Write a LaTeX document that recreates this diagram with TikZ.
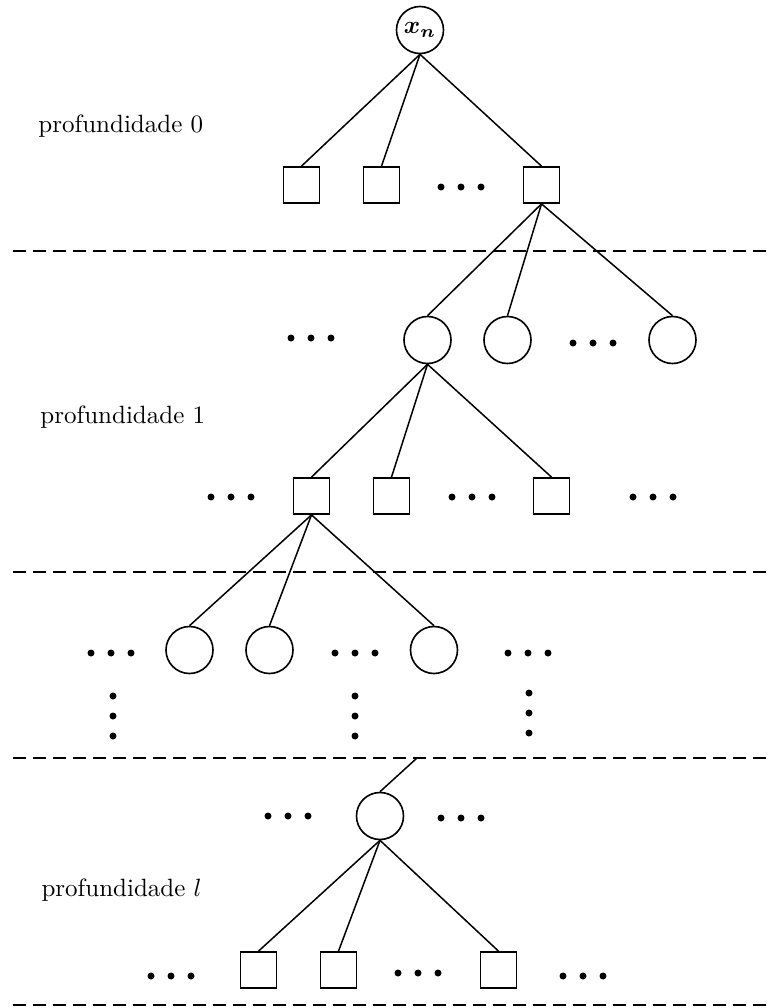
\documentclass[tikz,border=0pt]{standalone}
\usepackage{bm}
\usetikzlibrary{shapes.geometric}
\tikzset{
  circ/.style={circle,draw,line width=0.65pt,minimum size=18.8pt,inner sep=0pt},
  sq/.style={rectangle,draw,line width=0.7pt,minimum size=14.4pt,inner sep=0pt},
  edge/.style={line width=0.6pt},
  sep/.style={line width=0.75pt,dash pattern=on 5.2pt off 2.8pt},
  lbl/.style={anchor=base west,inner sep=0pt}
}
\newcommand{\hdots}[3]{\fill (#1,#3) circle (1.4pt) (#1+20,#3) circle (1.4pt) (#1+40,#3) circle (1.4pt);}
\newcommand{\vdotsat}[3]{\fill (#1,#2) circle (1.4pt) (#1,#2+20) circle (1.4pt) (#1,#2+40) circle (1.4pt);}
\begin{document}
\begin{tikzpicture}[x=0.4pt,y=-0.4pt]
\useasboundingbox (0,0) rectangle (769,1008);
% separators
\coordinate (s1a) at (13,251); \coordinate (s1b) at (769,251);
\coordinate (s2a) at (13,572); \coordinate (s2b) at (769,572);
\coordinate (s3a) at (13,758); \coordinate (s3b) at (769,758);
\coordinate (s4a) at (13,1005); \coordinate (s4b) at (769,1005);
\draw[sep] (s1a) -- (s1b);
\draw[sep] (s2a) -- (s2b);
\draw[sep] (s3a) -- (s3b);
\draw[sep] (s4a) -- (s4b);
% labels
\node[lbl] (l0) at (38,132) {profundidade 0};
\node[lbl] (l1) at (40,423) {profundidade 1};
\node[lbl] (ll) at (41,896) {profundidade $l$};
% depth 0
\node[circ] (root) at (420,30) {$\bm{x_n}$};
\node[sq] (b01) at (301.5,185) {};
\node[sq] (b02) at (381.5,185) {};
\node[sq] (b03) at (541.5,185) {};
\hdots{441}{0}{187}
\draw[edge] (root.south) -- (b01.north);
\draw[edge] (root.south) -- (b02.north);
\draw[edge] (root.south) -- (b03.north);
% depth 1 circles
\node[circ] (c11) at (427.5,340) {};
\node[circ] (c12) at (507.5,340) {};
\node[circ] (c13) at (672.5,340) {};
\hdots{291}{0}{338}
\hdots{573}{0}{343}
\draw[edge] (b03.south) -- (c11.north);
\draw[edge] (b03.south) -- (c12.north);
\draw[edge] (b03.south) -- (c13.north);
% depth 1 boxes
\node[sq] (b11) at (311.5,496) {};
\node[sq] (b12) at (391.5,496) {};
\node[sq] (b13) at (551.5,496) {};
\hdots{211}{0}{497}
\hdots{452}{0}{497}
\hdots{633}{0}{497}
\draw[edge] (c11.south) -- (b11.north);
\draw[edge] (c11.south) -- (b12.north);
\draw[edge] (c11.south) -- (b13.north);
% depth 2 circles
\node[circ] (c21) at (189.5,650) {};
\node[circ] (c22) at (269.5,650) {};
\node[circ] (c23) at (434,650) {};
\hdots{91}{0}{653}
\hdots{335}{0}{653}
\hdots{508}{0}{653}
\vdotsat{113}{696}{0}
\vdotsat{355}{696}{0}
\vdotsat{529}{693}{0}
\draw[edge] (b11.south) -- (c21.north);
\draw[edge] (b11.south) -- (c22.north);
\draw[edge] (b11.south) -- (c23.north);
% depth l
\node[circ] (cl) at (380,816) {};
\coordinate (up) at (417,758);
\draw[edge] (cl.north) -- (up);
\hdots{268}{0}{816}
\hdots{441}{0}{818}
\node[sq] (bl1) at (258.5,970) {};
\node[sq] (bl2) at (338.5,970) {};
\node[sq] (bl3) at (498.5,970) {};
\hdots{151}{0}{976}
\hdots{398}{0}{973}
\hdots{563}{0}{976}
\draw[edge] (cl.south) -- (bl1.north);
\draw[edge] (cl.south) -- (bl2.north);
\draw[edge] (cl.south) -- (bl3.north);
\end{tikzpicture}
\end{document}
